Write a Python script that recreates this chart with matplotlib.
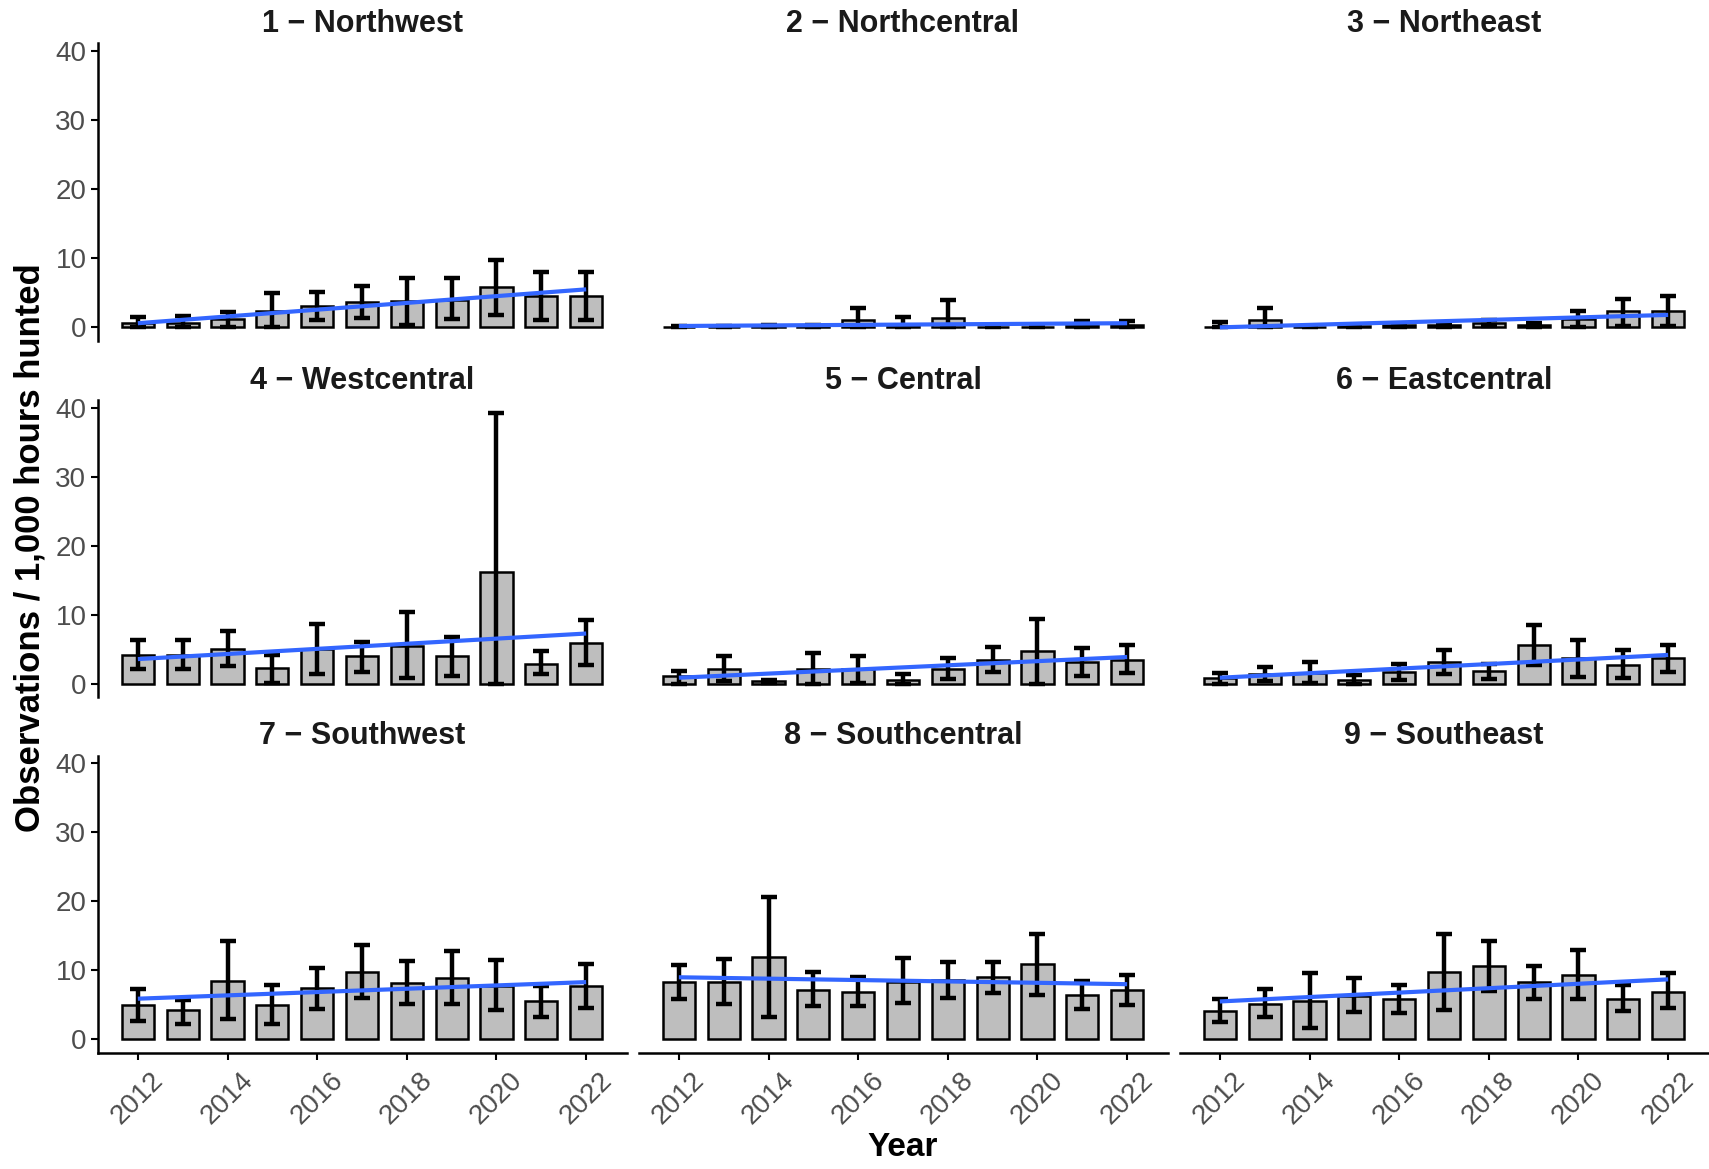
import numpy as np
import matplotlib
matplotlib.use("Agg")
import matplotlib.pyplot as plt

plt.rcParams["font.family"] = ["Liberation Sans", "DejaVu Sans"]

years = [2012, 2013, 2014, 2015, 2016, 2017, 2018, 2019, 2020, 2021, 2022]
regions = ["1 \u2212 Northwest", "2 \u2212 Northcentral", "3 \u2212 Northeast",
           "4 \u2212 Westcentral", "5 \u2212 Central", "6 \u2212 Eastcentral",
           "7 \u2212 Southwest", "8 \u2212 Southcentral", "9 \u2212 Southeast"]

# mean observations / 1,000 hours, with lower and upper error limits
nw_mean = [0.6, 0.7, 1.2, 2.3, 3.1, 3.7, 3.8, 4.0, 5.8, 4.5, 4.5]
nw_lo = [0, 0, 0, 0, 1.1, 1.35, 0.4, 1.2, 1.8, 1.0, 1.0]
nw_hi = [1.45, 1.7, 2.2, 5.0, 5.1, 6.0, 7.1, 7.1, 9.7, 8.0, 8.0]

nc_mean = [0.05, 0.1, 0.15, 0.15, 1.0, 0.4, 1.4, 0.1, 0.1, 0.3, 0.4]
nc_lo = [0, 0, 0, 0, 0, 0, 0, 0, 0, 0, 0]
nc_hi = [0.2, 0.2, 0.4, 0.4, 2.8, 1.5, 3.9, 0.2, 0.2, 0.9, 0.9]

ne_mean = [0.1, 1.0, 0.05, 0.2, 0.3, 0.3, 0.6, 0.3, 1.2, 2.3, 2.4]
ne_lo = [0, 0, 0, 0, 0, 0, 0.2, 0, 0, 0.25, 0.25]
ne_hi = [0.8, 2.8, 0.2, 0.4, 0.5, 0.5, 1.1, 0.7, 2.4, 4.1, 4.5]

wc_mean = [4.2, 4.2, 5.1, 2.3, 5.0, 4.0, 5.5, 4.0, 16.2, 2.9, 5.9]
wc_lo = [2.2, 2.2, 2.6, 0.1, 1.5, 1.8, 0.8, 1.2, 0.0, 1.4, 2.7]
wc_hi = [6.3, 6.3, 7.7, 4.2, 8.7, 6.1, 10.4, 6.8, 39.2, 4.7, 9.2]

c_mean = [1.1, 2.2, 0.4, 2.2, 2.1, 0.6, 2.1, 3.5, 4.7, 3.2, 3.5]
c_lo = [0, 0.4, 0.1, 0, 0.15, 0, 0.7, 1.7, 0, 1.2, 1.55]
c_hi = [1.9, 4.0, 0.6, 4.5, 4.0, 1.4, 3.8, 5.4, 9.4, 5.2, 5.6]

ec_mean = [0.8, 1.5, 1.6, 0.6, 1.8, 3.2, 1.9, 5.7, 3.7, 2.8, 3.7]
ec_lo = [0, 0.5, 0.15, 0, 0.6, 1.4, 0.7, 2.8, 1.0, 0.9, 1.8]
ec_hi = [1.6, 2.5, 3.2, 1.3, 2.9, 4.9, 2.9, 8.5, 6.4, 4.9, 5.6]

sw_mean = [5.0, 4.2, 8.5, 5.0, 7.4, 9.8, 8.2, 8.9, 7.8, 5.6, 7.8]
sw_lo = [2.7, 2.3, 2.9, 2.3, 4.4, 6.0, 5.2, 5.1, 4.2, 3.3, 4.5]
sw_hi = [7.3, 5.7, 14.2, 7.9, 10.3, 13.7, 11.3, 12.8, 11.5, 7.7, 10.9]

sc_mean = [8.25, 8.25, 12.0, 7.2, 6.9, 8.3, 8.6, 9.0, 10.9, 6.4, 7.1]
sc_lo = [5.8, 5.1, 3.2, 4.8, 4.8, 5.3, 6.0, 6.7, 6.4, 4.4, 5.0]
sc_hi = [10.8, 11.6, 20.6, 9.8, 9.1, 11.8, 11.2, 11.2, 15.3, 8.4, 9.3]

se_mean = [4.1, 5.2, 5.6, 6.3, 5.9, 9.8, 10.7, 8.3, 9.4, 5.9, 6.9]
se_lo = [2.5, 3.2, 1.6, 4.0, 3.9, 4.3, 7.0, 5.8, 5.8, 4.1, 4.5]
se_hi = [5.8, 7.3, 9.6, 8.9, 7.9, 15.2, 14.3, 10.7, 13.0, 7.9, 9.6]

# linear trend, value at 2012 and at 2022
trend_start = [0.6, 0.2, 0.0, 3.6, 0.9, 0.9, 5.9, 9.0, 5.5]
trend_end = [5.5, 0.6, 1.8, 7.3, 3.9, 4.2, 8.3, 8.0, 8.7]

means = [nw_mean, nc_mean, ne_mean, wc_mean, c_mean, ec_mean, sw_mean, sc_mean, se_mean]
lows = [nw_lo, nc_lo, ne_lo, wc_lo, c_lo, ec_lo, sw_lo, sc_lo, se_lo]
highs = [nw_hi, nc_hi, ne_hi, wc_hi, c_hi, ec_hi, sw_hi, sc_hi, se_hi]

W, H = 1709, 1169
fig = plt.figure(figsize=(W / 100, H / 100), dpi=100)

col_left = [97.5, 638.5, 1179.5]
pw = 529
row_top = [43.4, 400, 755.5]
ph = 297.5
tick_col = "#4D4D4D"

for i in range(9):
    r, c = divmod(i, 3)
    ax = fig.add_axes([col_left[c] / W, 1 - (row_top[r] + ph) / H, pw / W, ph / H])
    m = np.array(means[i])
    lo = np.array(lows[i])
    hi = np.array(highs[i])
    ax.bar(years, m, width=0.72, color="#BEBEBE", edgecolor="black", linewidth=1.8, zorder=2)
    ax.errorbar(years, m, yerr=[m - lo, hi - m], fmt="none", ecolor="black",
                elinewidth=3.2, capsize=6, capthick=3.2, zorder=3)
    ax.plot([years[0], years[-1]], [trend_start[i], trend_end[i]], color="#3366FF",
            linewidth=3, zorder=4, solid_capstyle="butt")
    ax.set_xlim(2011.1, 2022.9)
    ax.set_ylim(-1.96, 41.1)
    ax.spines["top"].set_visible(False)
    ax.spines["right"].set_visible(False)
    for s in ["left", "bottom"]:
        ax.spines[s].set_linewidth(1.8)
    ax.text(0.5, 1 + 19 / ph, regions[i], transform=ax.transAxes, ha="center", va="center",
            fontsize=22, fontweight="bold", color="#1A1A1A")
    ax.set_yticks([0, 10, 20, 30, 40])
    ax.set_xticks([2012, 2014, 2016, 2018, 2020, 2022])
    ax.tick_params(axis="both", length=5, width=1.5, colors="black", labelcolor=tick_col)
    ax.tick_params(axis="y", labelsize=20)
    ax.tick_params(axis="x", labelsize=20)
    if c == 0:
        ax.tick_params(axis="y", pad=3)
    else:
        ax.spines["left"].set_visible(False)
        ax.tick_params(axis="y", left=False, labelleft=False)
    if r == 2:
        for lab in ax.get_xticklabels():
            lab.set_rotation(45)
            lab.set_ha("center")
        ax.tick_params(axis="x", pad=5)
    else:
        ax.spines["bottom"].set_visible(False)
        ax.tick_params(axis="x", bottom=False, labelbottom=False)

fig.text(30.5 / W, 1 - 548 / H, "Observations / 1,000 hours hunted", rotation=90,
         ha="center", va="center", fontsize=25, fontweight="bold")
fig.text(903 / W, 1 - 1148 / H, "Year", ha="center", va="center",
         fontsize=24, fontweight="bold")

fig.savefig("out.png", dpi=100)
